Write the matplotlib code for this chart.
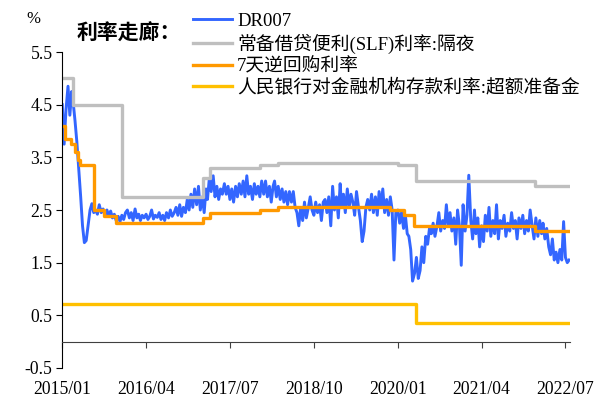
import matplotlib
matplotlib.use("Agg")
import matplotlib.dates as mdates
import matplotlib.pyplot as plt
import pandas as pd

plt.rcParams["font.family"] = ["Liberation Serif", "Noto Sans CJK SC"]

# x tick labels, one every 15 months
TICK_LABELS = ["2015/01", "2016/04", "2017/07", "2018/10", "2020/01", "2021/04", "2022/07"]
Y_TICKS = [-0.5, 0.5, 1.5, 2.5, 3.5, 4.5, 5.5]

# DR007, three readings a month (day 1, 11, 21)
dr007_2015 = [4.50, 3.75, 4.40, 4.85, 4.30, 4.75, 4.55, 4.20, 3.80, 3.25, 2.75, 2.20,
              1.88, 1.92, 2.20, 2.50, 2.62, 2.45, 2.50, 2.42, 2.60, 2.45, 2.52, 2.40,
              2.50, 2.38, 2.48, 2.35, 2.42, 2.30, 2.38, 2.28, 2.40, 2.32, 2.45, 2.50]
dr007_2016 = [2.35, 2.45, 2.30, 2.52, 2.35, 2.42, 2.30, 2.40, 2.35, 2.42, 2.32, 2.38,
              2.50, 2.33, 2.40, 2.36, 2.45, 2.32, 2.40, 2.30, 2.45, 2.35, 2.50, 2.38,
              2.45, 2.55, 2.40, 2.60, 2.38, 2.55, 2.45, 2.70, 2.50, 2.80, 2.55, 2.90]
dr007_2017 = [2.60, 2.95, 2.50, 2.75, 2.45, 2.90, 2.70, 3.10, 2.85, 3.15, 2.75, 2.95,
              2.70, 2.90, 2.80, 3.00, 2.80, 2.95, 2.70, 2.90, 2.65, 2.95, 2.75, 3.00,
              2.80, 3.05, 2.75, 3.15, 2.80, 2.95, 2.70, 3.00, 2.80, 2.95, 2.75, 3.05]
dr007_2018 = [2.80, 3.05, 2.75, 2.95, 2.65, 2.95, 3.05, 2.75, 2.95, 2.70, 2.90, 2.65,
              2.85, 2.60, 2.85, 2.65, 2.85, 2.55, 2.45, 2.20, 2.55, 2.30, 2.65, 2.35,
              2.55, 2.75, 2.50, 2.40, 2.65, 2.45, 2.60, 2.30, 2.65, 2.70, 2.45, 2.75]
dr007_2019 = [2.20, 2.95, 2.50, 2.75, 2.35, 3.00, 2.55, 2.80, 2.45, 2.90, 2.55, 2.80,
              2.65, 2.40, 2.85, 2.55, 2.30, 1.90, 2.10, 2.55, 2.70, 2.50, 2.80, 2.45,
              2.75, 2.40, 2.85, 2.55, 2.90, 2.45, 2.70, 2.40, 2.75, 2.50, 1.55, 2.45]
dr007_2020 = [2.50, 2.25, 2.45, 2.15, 2.40, 2.05, 2.00, 1.75, 1.15, 1.30, 1.60, 1.20,
              1.35, 1.80, 1.50, 2.00, 1.85, 2.15, 2.05, 2.25, 2.00, 2.20, 2.45, 2.10,
              2.30, 2.15, 2.60, 2.20, 2.45, 2.10, 2.35, 1.85, 2.50, 2.20, 1.45, 2.60]
dr007_2021 = [2.10, 2.40, 3.16, 2.30, 1.95, 2.50, 2.05, 2.35, 1.80, 2.20, 1.90, 2.40,
              2.10, 2.55, 2.00, 2.30, 2.05, 2.60, 1.95, 2.30, 2.15, 2.40, 2.00, 2.25,
              2.10, 2.45, 2.15, 2.30, 1.95, 2.35, 2.15, 2.40, 2.05, 2.30, 2.10, 2.50]
dr007_2022 = [2.20, 1.95, 2.35, 2.00, 2.30, 2.05, 2.25, 1.95, 2.15, 1.80, 1.65, 1.95,
              1.55, 1.70, 1.50, 1.75, 1.55, 2.28, 1.60, 1.50, 1.55]

# policy rates: date of change and new level
slf_dates = ["2015-01-01", "2015-03-01", "2015-11-20", "2017-02-03", "2017-03-16",
             "2017-12-14", "2018-03-22", "2020-01-01", "2020-04-10", "2022-01-17"]
slf_rates = [5.0, 4.5, 2.75, 3.1, 3.3, 3.35, 3.4, 3.35, 3.05, 2.95]

repo_dates = ["2015-01-01", "2015-01-15", "2015-02-15", "2015-03-10", "2015-03-25",
              "2015-04-10", "2015-06-22", "2015-08-16", "2015-10-22", "2017-02-03",
              "2017-03-16", "2017-12-14", "2018-03-22", "2019-11-18", "2020-02-03",
              "2020-03-30", "2022-01-17"]
repo_rates = [4.1, 3.85, 3.75, 3.6, 3.45, 3.35, 2.5, 2.38, 2.25, 2.35,
              2.45, 2.5, 2.55, 2.5, 2.4, 2.2, 2.1]

excess_dates = ["2015-01-01", "2020-04-07"]
excess_rates = [0.72, 0.35]

END_DATE = "2022-07-22"

LABELS = ["DR007", "常备借贷便利(SLF)利率:隔夜", "7天逆回购利率",
          "人民银行对金融机构存款利率:超额准备金"]
COLORS = ["#3366FF", "#BFBFBF", "#FF9900", "#FFC000"]


def step_series(dates, rates):
    x = pd.to_datetime(dates + [END_DATE])
    y = rates + [rates[-1]]
    return x, y


def main() -> None:
    months = pd.date_range("2015-01-01", "2022-07-01", freq="MS")
    dr_dates = [m + pd.Timedelta(days=d) for m in months for d in (0, 10, 20)]
    dr_values = (dr007_2015 + dr007_2016 + dr007_2017 + dr007_2018
                 + dr007_2019 + dr007_2020 + dr007_2021 + dr007_2022)

    fig = plt.figure(figsize=(6.02, 4.01), dpi=100)
    ax = fig.add_axes([0.1035, 0.0823, 0.8434, 0.788])

    ax.plot(dr_dates, dr_values, color=COLORS[0], lw=2.1, label=LABELS[0])
    for (d, r), c, lab in zip(
        [(slf_dates, slf_rates), (repo_dates, repo_rates), (excess_dates, excess_rates)],
        COLORS[1:], LABELS[1:],
    ):
        x, y = step_series(d, r)
        ax.plot(x, y, color=c, lw=2.4, drawstyle="steps-post", label=lab)

    ax.set_ylim(-0.5, 5.5)
    ax.set_yticks(Y_TICKS)
    ax.set_yticklabels([f"{v:.1f}" for v in Y_TICKS])
    ax.set_xlim(pd.Timestamp("2015-01-01"), pd.Timestamp("2022-07-26"))
    tick_pos = [pd.to_datetime(t, format="%Y/%m") for t in TICK_LABELS]
    ax.set_xticks(tick_pos)
    ax.set_xticklabels(TICK_LABELS)

    ax.spines["top"].set_visible(False)
    ax.spines["right"].set_visible(False)
    ax.spines["bottom"].set_position(("data", 0))
    ax.spines["bottom"].set_color("#404040")
    ax.spines["left"].set_color("black")
    ax.tick_params(axis="x", direction="out", length=4, color="#404040",
                   labelsize=12.7, pad=24)
    ax.tick_params(axis="y", direction="out", length=4, color="black",
                   labelsize=12.7, pad=3)

    fig.text(0.055, 0.953, "%", fontsize=12, ha="center", va="center")
    fig.text(0.128, 0.918, "利率走廊：", fontsize=15, fontweight="bold",
             family=["Noto Sans CJK SC"], ha="left", va="center")

    fig.legend(loc="upper left", bbox_to_anchor=(0.3206, 0.968), frameon=False,
               fontsize=13.5, handlelength=2.1, handletextpad=0.25,
               labelspacing=0.2, borderpad=0, borderaxespad=0)

    fig.savefig("out.png", dpi=100)
    plt.close(fig)


if __name__ == "__main__":
    main()
